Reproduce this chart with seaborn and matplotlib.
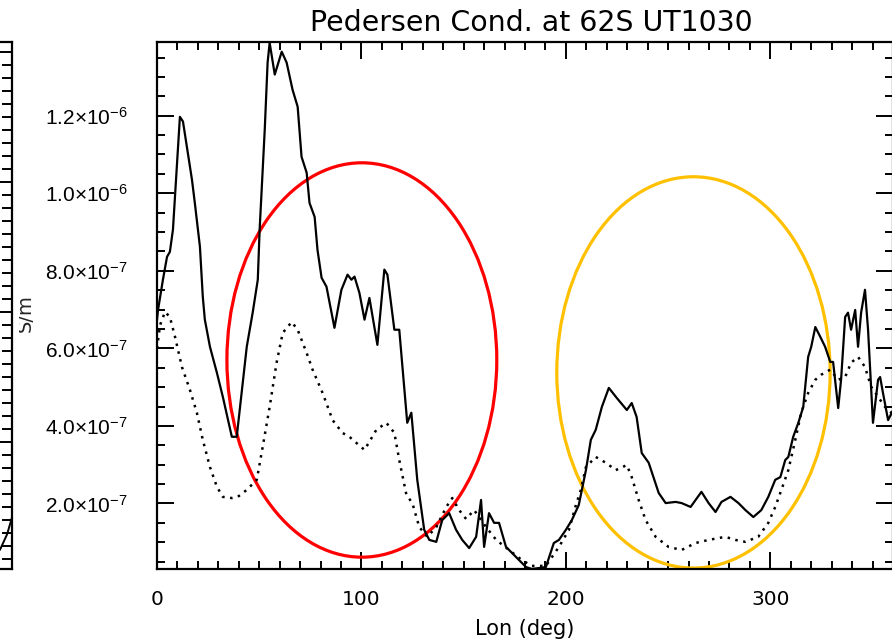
import pandas as pd
import matplotlib
matplotlib.use('Agg')
import matplotlib.pyplot as plt
from matplotlib.patches import Ellipse
from matplotlib.ticker import MultipleLocator
import seaborn as sns

sns.set_theme(style='ticks')
plt.rcParams['font.family'] = ['DejaVu Sans']
# y tick labels use mathtext, drawn with an Arial-like face
plt.rcParams['mathtext.fontset'] = 'custom'
plt.rcParams['mathtext.rm'] = 'Liberation Sans'
plt.rcParams['mathtext.it'] = 'Liberation Sans:italic'
plt.rcParams['mathtext.bf'] = 'Liberation Sans:bold'

# solid curve: longitude (deg), Pedersen conductivity (x1e-7)
solid_lon = [0, 0.5, 2.9, 4.9, 6.3, 7.8, 9.8, 11.2, 12.7, 14.6, 17.1, 18.5, 21.0, 22.4,
             23.4, 25.9, 29.3, 32.2, 36.6, 39.0, 43.9, 46.8, 49.3, 50.2, 52.7, 54.1,
             55.1, 57.6, 61.0, 63.4, 66.3, 68.8, 70.7, 73.2, 74.6, 77.1, 78.5, 80.5,
             82.9, 86.8, 90.2, 93.2, 95.1, 96.6, 99.0, 101.5, 103.9, 107.8, 111.2,
             112.7, 116.1, 118.5, 121.0, 122.4, 124.4, 127.3, 130.7, 133.2, 136.6,
             139.5, 142.9, 146.3, 149.3, 152.7, 156.1, 158.5, 160.0, 162.4, 164.9,
             167.3, 170.7, 175.6, 180.5, 183.4, 190.2, 194.1, 196.6, 200.0, 202.9,
             206.3, 209.8, 212.2, 214.6, 217.6, 221.0, 224.9, 229.8, 232.2, 234.6,
             237.1, 240.5, 245.4, 248.8, 253.7, 256.6, 261.0, 266.3, 269.8, 273.2,
             276.1, 280.5, 284.4, 287.8, 291.7, 295.6, 299.0, 302.4, 304.9, 307.3,
             308.8, 311.2, 313.7, 316.1, 318.5, 320.0, 322.0, 324.4, 326.8, 329.3,
             330.7, 333.2, 334.6, 336.6, 338.0, 339.5, 341.5, 342.9, 344.4, 346.3,
             347.8, 350.2, 352.7, 353.7, 355.1, 357.6, 360.0]
solid_val = [6.74, 6.99, 7.77, 8.36, 8.49, 9.06, 10.79, 11.97, 11.85, 11.2, 10.35, 9.75,
             8.62, 7.33, 6.74, 6.04, 5.37, 4.75, 3.72, 3.72, 6.04, 6.92, 7.77, 9.06,
             11.64, 13.37, 13.88, 13.06, 13.65, 13.37, 12.67, 12.23, 10.94, 10.53,
             9.75, 9.39, 8.54, 7.82, 7.59, 6.53, 7.51, 7.90, 7.77, 7.85, 7.43, 6.74,
             7.30, 6.09, 8.03, 7.90, 6.48, 6.48, 4.93, 4.08, 4.34, 2.61, 1.32, 1.06,
             1.01, 1.57, 1.75, 1.32, 1.06, 0.85, 1.14, 2.09, 0.88, 1.75, 1.50, 1.50,
             0.88, 0.62, 0.36, 0.31, 0.36, 0.98, 1.06, 1.32, 1.57, 1.96, 2.86, 3.64,
             3.90, 4.49, 4.98, 4.72, 4.41, 4.59, 4.23, 3.30, 3.05, 2.27, 2.01, 2.04,
             2.01, 1.91, 2.30, 2.01, 1.78, 2.04, 2.17, 2.01, 1.83, 1.65, 1.83, 2.17,
             2.61, 2.68, 3.12, 3.20, 3.72, 4.08, 4.49, 5.78, 6.04, 6.55, 6.30, 6.04,
             5.65, 5.65, 4.46, 5.19, 6.81, 6.92, 6.48, 6.99, 6.04, 6.92, 7.51, 6.48,
             4.08, 5.19, 5.26, 4.85, 4.15, 4.40]

# dotted curve
dot_lon = [0, 1.5, 3.9, 6.3, 8.8, 12.2, 16.1, 19.5, 22.4, 25.9, 29.3, 32.2, 36.6, 39.5,
           43.9, 48.8, 51.7, 55.1, 58.5, 61.5, 65.9, 68.8, 73.2, 76.1, 81.0, 85.9,
           90.7, 94.1, 101.5, 107.3, 112.2, 116.1, 118.5, 122.0, 124.9, 128.3, 132.2,
           136.6, 141.5, 144.4, 147.8, 151.2, 155.1, 161.0, 165.9, 172.2, 178.5,
           183.4, 190.2, 196.6, 201.5, 204.9, 207.3, 209.8, 214.6, 219.5, 224.4,
           229.8, 232.2, 235.6, 239.0, 243.9, 250.2, 256.6, 263.4, 269.8, 278.0,
           282.9, 287.8, 294.1, 299.0, 302.4, 305.4, 308.8, 312.2, 315.1, 318.5,
           322.0, 324.9, 329.3, 333.2, 336.6, 339.5, 342.9, 346.3, 349.3, 352.7,
           356.1, 360.0]
dot_val = [6.0, 6.6, 6.94, 6.81, 6.30, 5.52, 4.93, 4.34, 3.64, 2.94, 2.43, 2.17, 2.14,
           2.17, 2.35, 2.61, 3.46, 4.49, 5.63, 6.40, 6.68, 6.48, 5.88, 5.45, 4.85,
           4.15, 3.82, 3.72, 3.38, 3.90, 4.08, 3.82, 3.12, 2.22, 2.01, 1.39, 1.14,
           1.39, 1.91, 2.14, 1.83, 1.60, 1.83, 1.39, 1.06, 0.80, 0.54, 0.39, 0.39,
           0.88, 1.32, 1.96, 2.35, 2.94, 3.20, 3.05, 2.86, 2.99, 2.68, 2.09, 1.57,
           1.14, 0.88, 0.80, 0.98, 1.06, 1.14, 1.06, 1.01, 1.14, 1.50, 1.91, 2.35,
           2.86, 3.64, 4.34, 4.85, 5.19, 5.32, 5.45, 5.19, 5.26, 5.63, 5.78, 5.52,
           5.01, 4.75, 4.49, 4.30]

ytick_vals = [2e-7, 4e-7, 6e-7, 8e-7, 1.0e-6, 1.2e-6]
ytick_labels = [r'$2.0{\times}10^{-7}$', r'$4.0{\times}10^{-7}$', r'$6.0{\times}10^{-7}$',
                r'$8.0{\times}10^{-7}$', r'$1.0{\times}10^{-6}$', r'$1.2{\times}10^{-6}$']
xtick_vals = [0, 100, 200, 300]

# piece of the neighbouring panel on the left edge
frag_lon = [354.1, 357.6, 360.0]
frag_val = [0.17, 0.29, 0.42]

df_solid = pd.DataFrame({'lon': solid_lon, 'val': [v * 1e-7 for v in solid_val]})
df_dot = pd.DataFrame({'lon': dot_lon, 'val': [v * 1e-7 for v in dot_val]})
df_frag = pd.DataFrame({'lon': frag_lon, 'val': frag_val})

W, H = 892, 643
fig = plt.figure(figsize=(W / 100, H / 100), dpi=100)

# main panel
ax = fig.add_axes([157 / W, 74 / H, 736 / W, 527 / H])
sns.lineplot(data=df_solid, x='lon', y='val', ax=ax, color='black', lw=1.6,
             estimator=None, sort=False)
sns.lineplot(data=df_dot, x='lon', y='val', ax=ax, color='black', lw=1.8,
             estimator=None, sort=False, linestyle=(0, (1, 2.2)))

ax.add_patch(Ellipse((100.2, 5.70e-7), 132, 10.17e-7, fill=False,
                     ec='#ff0000', lw=2.3))
ax.add_patch(Ellipse((262.4, 5.38e-7), 133.7, 10.09e-7, fill=False,
                     ec='#ffc000', lw=2.3))

ax.set_xlim(0, 360)
ax.set_ylim(0.31e-7, 13.9e-7)
ax.set_xticks(xtick_vals)
ax.set_xticklabels([str(v) for v in xtick_vals])
ax.set_yticks(ytick_vals)
ax.set_yticklabels(ytick_labels)
ax.xaxis.set_minor_locator(MultipleLocator(10))
ax.yaxis.set_minor_locator(MultipleLocator(0.5e-7))
ax.tick_params(which='both', direction='in', top=True, right=True, color='black',
               width=1.4, labelcolor='black')
ax.tick_params(which='major', length=12)
ax.tick_params(which='minor', length=6)
ax.tick_params(axis='y', which='major', pad=21, labelsize=15)
ax.tick_params(axis='x', which='major', pad=15, labelsize=14.5)
for s in ax.spines.values():
    s.set_linewidth(1.6)
    s.set_color('black')

ax.set_xlabel('Lon (deg)', fontsize=15, labelpad=7, color='black')
ax.set_ylabel('')
ax.set_title('Pedersen Cond. at 62S UT1030', fontsize=20.4, pad=8, color='black',
             x=0.509)

# left neighbour fragment
ax2 = fig.add_axes([(12 - 736) / W, 74 / H, 736 / W, 527 / H])
sns.lineplot(data=df_frag, x='lon', y='val', ax=ax2, color='black', lw=1.4,
             estimator=None, sort=False)
ax2.set_xlim(0, 360)
ax2.set_ylim(0.023, 4.077)
ax2.set_xticks([])
ax2.set_yticks([1, 2, 3, 4])
ax2.yaxis.set_minor_locator(MultipleLocator(0.1))
ax2.tick_params(which='both', direction='in', left=False, right=True,
                labelleft=False, labelright=False, color='black', width=1.4)
ax2.tick_params(which='major', length=11)
ax2.tick_params(which='minor', length=7)
for s in ax2.spines.values():
    s.set_linewidth(1.6)
    s.set_color('black')
ax2.set_xlabel('')
ax2.set_ylabel('')

# cut-off y title of the left panel
ax3 = fig.add_axes([19 / W, 285 / H, 20 / W, 90 / H])
ax3.axis('off')
ax3.text(0.3, 0.5, 'S/m', rotation=90, fontsize=14, ha='center', va='center',
         transform=ax3.transAxes, clip_on=True)

fig.savefig('out.png', dpi=100)
